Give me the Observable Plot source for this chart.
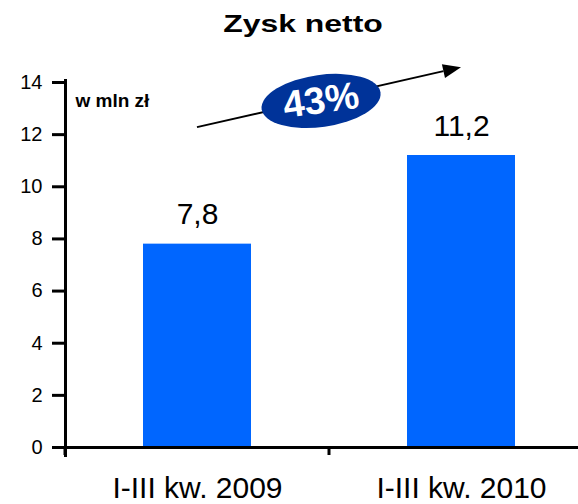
<!DOCTYPE html>
<html><head><meta charset="utf-8">
<script src="https://cdn.jsdelivr.net/npm/d3@7"></script>
<script src="https://cdn.jsdelivr.net/npm/@observablehq/plot@0.6"></script>
<style>
body{margin:0;background:#fff;font-family:Arial,"Liberation Sans",sans-serif;}
#wrap{width:578px;height:504px;position:relative;overflow:hidden;background:#fff}
#title{height:50px;position:relative}
#title span{position:absolute;left:303px;top:12px;line-height:24px;white-space:nowrap;transform:translateX(-50%) scaleX(1.33);font-weight:bold;font-size:24px;color:#000}
#chart svg{display:block}
</style></head><body>
<div id="wrap"><div id="title"><span>Zysk netto</span></div><div id="chart"></div></div>
<script>
const categories = ["I-III kw. 2009", "I-III kw. 2010"];
const values = [7.8, 11.2];
const valueLabels = ["7,8", "11,2"];
const yTicks = [0, 2, 4, 6, 8, 10, 12, 14];
const unitLabel = "w mln zł";
const changeLabel = "43%";
const arrowY = [12.27, 14.57];   // arrow start / end in data units (y)
const badgeAlong = 0.47;         // where the badge sits along the arrow

const data = categories.map((c, i) => ({cat: c, value: values[i], label: valueLabels[i]}));
const font = "Arial, 'Liberation Sans', sans-serif";

const plot = Plot.plot({
  width: 578, height: 454,
  marginTop: 32, marginBottom: 57, marginLeft: 65, marginRight: 0,
  style: {fontFamily: font, color: "#000", background: "#fff", overflow: "visible"},
  x: {domain: categories, range: [65, 593], paddingInner: 0.591, paddingOuter: 0.2955, align: 0.5, label: null},
  y: {domain: [0, 14], ticks: yTicks, label: null},
  marks: [
    Plot.barY(data, {x: "cat", y: "value", fill: "#0066ff"}),
    Plot.ruleY([0], {stroke: "#000", strokeWidth: 3}),
    Plot.frame({anchor: "left", stroke: "#000", strokeWidth: 3, insetTop: -2, insetBottom: -8}),
    Plot.axisY(yTicks, {tickSize: 13, tickPadding: 10, fontSize: 20, strokeWidth: 3, label: null}),
    Plot.axisX({tickSize: 0, tickPadding: 29, fontSize: 30, label: null}),
    Plot.text(data, {x: "cat", y: "value", text: "label", dy: -20, lineAnchor: "bottom", fontSize: 30}),
    Plot.text([unitLabel], {frameAnchor: "top-left", dx: 10, dy: 11, lineAnchor: "top", textAnchor: "start", fontSize: 19, fontWeight: "bold"})
  ]
});
document.getElementById("chart").appendChild(plot);

// decorations drawn from the library's own scales
const xs = plot.scale("x"), ys = plot.scale("y");
const svg = d3.select(plot);
const step = xs.step, bw = xs.bandwidth;
const gap = (step - bw) / 2;
const bounds = [xs.apply(categories[0]) - gap, ...categories.map(c => xs.apply(c) + bw + gap)];
const y0 = ys.apply(0);
svg.append("g").selectAll("line").data(bounds).join("line")
  .attr("x1", d => d).attr("x2", d => d).attr("y1", y0).attr("y2", y0 + 8)
  .attr("stroke", "#000").attr("stroke-width", 3);

// growth arrow
const sx = xs.apply(categories[0]) + bw / 2, sy = ys.apply(arrowY[0]);
const ex = xs.apply(categories[1]) + bw / 2, ey = ys.apply(arrowY[1]);
const ang = Math.atan2(ey - sy, ex - sx);
const headL = 18, headW = 7;
const bx = ex - headL * Math.cos(ang), by = ey - headL * Math.sin(ang);
const g = svg.append("g");
g.append("line").attr("x1", sx).attr("y1", sy).attr("x2", bx).attr("y2", by)
  .attr("stroke", "#000").attr("stroke-width", 2);
g.append("polygon").attr("points", [
  [ex, ey],
  [bx + headW * Math.sin(ang), by - headW * Math.cos(ang)],
  [bx - headW * Math.sin(ang), by + headW * Math.cos(ang)]
].map(p => p.join(",")).join(" ")).attr("fill", "#000");

const cx = sx + (ex - sx) * badgeAlong, cy = sy + (ey - sy) * badgeAlong + 2;
const badge = g.append("g").attr("transform", `translate(${cx},${cy}) rotate(-8)`);
badge.append("ellipse").attr("rx", 60).attr("ry", 26).attr("fill", "#003399");
badge.append("text").attr("text-anchor", "middle").attr("y", 12)
  .attr("fill", "#fff").attr("font-weight", "bold").attr("font-size", 38)
  .attr("font-family", font).text(changeLabel);
</script>
</body></html>
